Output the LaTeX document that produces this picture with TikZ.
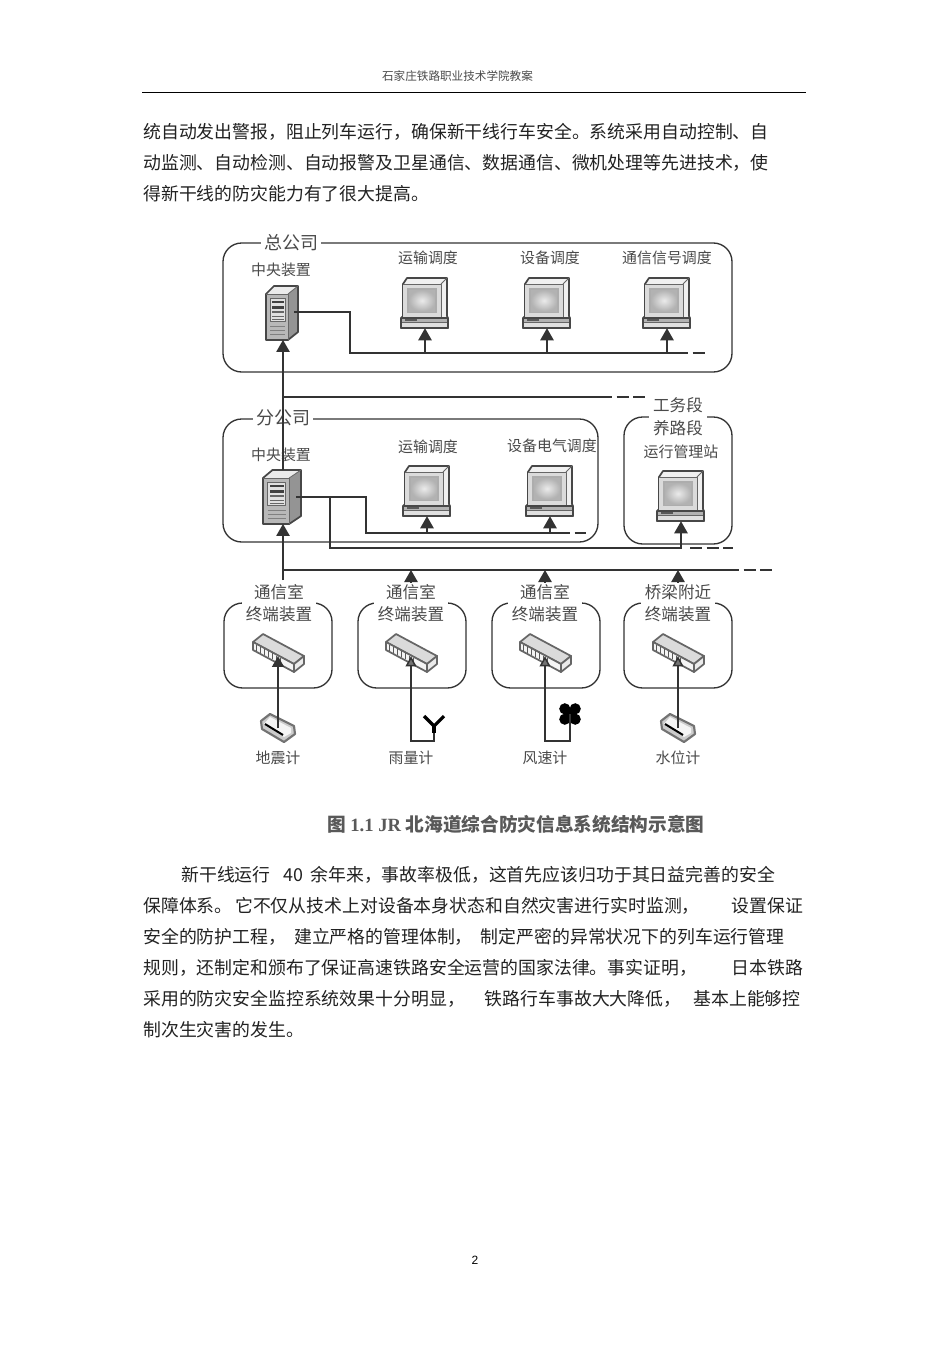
\documentclass[tikz,border=0pt]{standalone}
\usepackage{fontspec}
\usetikzlibrary{arrows.meta,calc}
\newfontfamily\cjk{Noto Sans CJK SC}
\newfontfamily\serifcap{Liberation Serif}
\definecolor{ink}{HTML}{333333}
\definecolor{lab}{HTML}{4A4A4A}
\definecolor{bodyink}{HTML}{222222}
\hbadness=10000 \hfuzz=20pt
\tikzset{
  x=0.75pt,y=-0.75pt,
  wire/.style={draw=ink,line width=1.1pt},
  dashwire/.style={draw=ink,line width=1.1pt,dash pattern=on 9pt off 3.5pt},
  arrowwire/.style={draw=ink,line width=1.1pt,-{Triangle[width=10pt,length=9pt]}},
  thinarrow/.style={draw=ink,line width=1.1pt,-{Triangle[width=8pt,length=7.5pt,fill=black!55]}},
  panel/.style={draw=ink,line width=1pt,rounded corners=14pt,inner sep=0pt},
  lab15/.style={font=\cjk\fontsize{11.2pt}{13pt}\selectfont,text=lab,inner sep=1pt},
  lab16/.style={font=\cjk\fontsize{12.4pt}{14pt}\selectfont,text=lab,inner sep=1pt},
  lab18/.style={font=\cjk\fontsize{13.5pt}{15pt}\selectfont,text=lab,inner sep=1pt},
  gaplab/.style={fill=white,inner xsep=2pt,inner ysep=1pt},
  gapdeep/.style={fill=white,inner xsep=3pt,inner ysep=6pt},
  bodyline/.style={anchor=west,font=\cjk\fontsize{13.4pt}{15pt}\selectfont,text=bodyink,inner sep=0pt},
  hole/.style={inner sep=0pt,minimum width=0pt,minimum height=0pt},
  edge1/.style={draw=black!72,line width=1.3pt,line join=round},
  edge2/.style={draw=black!60,line width=.6pt,line join=round}
}
\newcommand\panelbox[5]{\node[panel,minimum width={(#4-#2)*0.75pt},minimum height={(#5-#3)*0.75pt}] (#1) at ({(#2+#4)/2},{(#3+#5)/2}) {};}
\newcommand\txtline[4]{\node[bodyline] (#1) at (#2,#3) {#4};}
\newcommand\monitor[3]{%
  \begin{scope}[shift={(#1,#2)}]
    \filldraw[edge1,fill=black!6] (-18,-26) -- (22,-26) -- (22,12) -- (23,14) -- (23,24) -- (-24,24) -- (-24,14) -- (-22,12) -- (-22,-20) -- cycle;
    \fill[black!14] (-22,-20) rectangle (16,13);
    \draw[edge2] (16,-20) -- (22,-26);
    \draw[edge2] (-22,-20) -- (16,-20) -- (16,13);
    \fill[black!32] (-18,-16) rectangle (12,9);
    \shade[inner color=black!8,outer color=black!30] (-16,-14) rectangle (10,7);
    \fill[black!30] (-24,14) rectangle (23,18);
    \draw[edge1,line width=.9pt] (-24,14) -- (23,14);
    \draw[edge2] (-24,18) -- (23,18);
    \fill[black!65] (-20,15) rectangle (-8,16.5);
    \fill[black!12] (-24,18.5) rectangle (23,23.5);
    \draw[edge1] (-24,14) -- (-24,24) -- (23,24) -- (23,14);
    \node[hole,minimum width=34pt,minimum height=37.5pt] (#3) at (0,-1) {};
  \end{scope}}
\newcommand\server[4]{%
  \begin{scope}[shift={(#1,#2)},xscale=#3]
    \fill[black!28] (-16,-19) -- (6,-19) -- (6,27) -- (-16,27) -- cycle;
    \fill[black!8] (-16,-19) -- (-8,-27) -- (16,-27) -- (6,-19) -- cycle;
    \fill[black!42] (6,-19) -- (16,-27) -- (16,19) -- (6,27) -- cycle;
    \draw[edge1] (-16,-19) -- (-8,-27) -- (16,-27) -- (16,19) -- (6,27) -- (-16,27) -- cycle;
    \draw[edge2] (-16,-19) -- (6,-19) -- (6,27);
    \draw[edge2] (6,-19) -- (16,-27);
    \fill[black!12] (-12,-15) rectangle (3,8);
    \draw[edge2] (-12,-15) rectangle (3,8);
    \fill[black!75] (-10,-12) rectangle (2,-10);
    \fill[black!75] (-10,-7) rectangle (2,-4);
    \fill[black!60] (-10,-2) rectangle (2,0);
    \draw[edge2] (-10,3) -- (2,3);
    \draw[edge2] (-10,6) -- (2,6);
    \foreach \yy in {13,17,21} \draw[black!50,line width=.4pt] (-12,\yy) -- (3,\yy);
    \node[hole,minimum width=24pt,minimum height=40pt] (#4) at (0,0) {};
  \end{scope}}
\newcommand\switchbox[3]{%
  \begin{scope}[shift={(#1,#2)}]
    \filldraw[edge1,draw=black!60,fill=black!14] (-25,-10) -- (-15,-18) -- (26,4) -- (16,12) -- cycle;
    \filldraw[edge1,draw=black!60,fill=black!4] (-25,-10) -- (16,12) -- (16,20) -- (-25,-2) -- cycle;
    \filldraw[edge1,draw=black!60,fill=black!8] (16,12) -- (26,4) -- (26,12) -- (16,20) -- cycle;
    \foreach \k in {0,...,6} \draw[black!65,line width=.6pt] ({-22+\k*4},{-7+\k*2.1}) -- ++(0,6);
    \node[hole,minimum width=3pt,minimum height=3pt] (#3) at (0,2) {};
  \end{scope}}
\newcommand\sensorbox[3]{%
  \begin{scope}[shift={(#1,#2)}]
    \filldraw[edge1,draw=black!55,fill=black!20,line width=1.6pt] (-17,-7) -- (-8,-14) -- (16,-2) -- (17,6) -- (6,14) -- (-16,1) -- cycle;
    \fill[black!4] (-8,-11) -- (13,0) -- (13,5) -- (6,9) -- (-14,-4) -- cycle;
    \draw[black,line width=1.5pt] (-13,-4) -- (5,7);
    \node[hole,minimum width=2pt,minimum height=2pt] (#3) at (0,2) {};
  \end{scope}}
\begin{document}
\begin{tikzpicture}
\useasboundingbox (0,0) rectangle (950,1345);
\fill[white] (0,0) rectangle (950,1345);

% page furniture
\node[font=\cjk\fontsize{8.7pt}{10pt}\selectfont,text=lab,inner sep=0pt] (head) at (457.5,76) {石家庄铁路职业技术学院教案};
\coordinate (ruleL) at (142,92); \coordinate (ruleR) at (806,92);
\draw[black,line width=.6pt] (ruleL) -- (ruleR);
\txtline{p1}{143}{132}{统自动发出警报，阻止列车运行，确保新干线行车安全。系统采用自动控制、自}
\txtline{p2}{143}{163}{动监测、自动检测、自动报警及卫星通信、数据通信、微机处理等先进技术，使}
\txtline{p3}{143}{194}{得新干线的防灾能力有了很大提高。}
\txtline{q1}{181}{875}{新干线运行\hspace{10pt}40\hspace{2pt} 余年来，事故率极低，这首先应该归功于其日益完善的安全}
\txtline{q2}{143}{906}{保障体系。\hspace{2pt}它不仅从技术上对设备本身状态和自然灾害进行实时监测，\hspace{24pt}设置保证}
\txtline{q3}{143}{937}{安全的防护工程，\hspace{6pt}建立严格的管理体制，\hspace{6pt}制定严密的异常状况下的列车运行管理}
\txtline{q4}{143}{968}{规则，还制定和颁布了保证高速铁路安全运营的国家法律。事实证明，\hspace{26pt}日本铁路}
\txtline{q5}{143}{999}{采用的防灾安全监控系统效果十分明显，\hspace{15pt}铁路行车事故大大降低，\hspace{9pt}基本上能够控}
\txtline{q6}{143}{1030}{制次生灾害的发生。}
\node[font=\fontspec{Liberation Sans}\fontsize{9pt}{10pt}\selectfont,inner sep=0pt] (pageno) at (475,1260) {2};

% panels
\panelbox{hq}{223}{243}{732}{372}
\panelbox{br}{223}{419}{598}{542}
\panelbox{wk}{624}{417}{732}{544}
\panelbox{t1}{224}{603}{332}{688}
\panelbox{t2}{358}{603}{466}{688}
\panelbox{t3}{492}{603}{600}{688}
\panelbox{t4}{624}{603}{732}{688}

% panel titles that interrupt the borders
\node[lab18,gaplab] (hqT) at (291,243) {总公司};
\node[lab18,gaplab] (brT) at (283,418) {分公司};
\node[lab16,gapdeep] (wkB) at (678,428) {养路段};
\node[lab16] (wkA) at (678,405) {工务段};
\node[lab16,gapdeep] (e1) at (279,614) {终端装置};
\node[lab16,gapdeep] (e2) at (411,614) {终端装置};
\node[lab16,gapdeep] (e3) at (545,614) {终端装置};
\node[lab16,gapdeep] (e4) at (678,614) {终端装置};

% equipment labels
\node[lab15] (a1) at (281,270) {中央装置};
\node[lab15] (a2) at (428,258) {运输调度};
\node[lab15] (a3) at (550,258) {设备调度};
\node[lab15] (a4) at (667,258) {通信信号调度};
\node[lab15] (b1) at (281,455) {中央装置};
\node[lab15] (b2) at (428,447) {运输调度};
\node[lab15] (b3) at (552,446) {设备电气调度};
\node[lab15] (b4) at (681,452) {运行管理站};
\node[lab16] (c1) at (279,592) {通信室};
\node[lab16] (c2) at (411,592) {通信室};
\node[lab16] (c3) at (545,592) {通信室};
\node[lab16] (c4) at (678,592) {桥梁附近};
\node[lab15] (d1) at (278,758) {地震计};
\node[lab15] (d2) at (411,758) {雨量计};
\node[lab15] (d3) at (545,758) {风速计};
\node[lab15] (d4) at (678,758) {水位计};

% equipment
\server{282}{313}{1}{s1}
\server{282}{497}{1.19}{s2}
\monitor{425}{304}{m1}
\monitor{547}{304}{m2}
\monitor{667}{304}{m3}
\monitor{427}{492}{m4}
\monitor{550}{492}{m5}
\monitor{681}{497}{m6}
\switchbox{278}{652}{w1}
\switchbox{411}{652}{w2}
\switchbox{545}{652}{w3}
\switchbox{678}{652}{w4}
\sensorbox{278}{728}{g1}
\sensorbox{678}{728}{g4}

% antenna and fan
\coordinate (r1) at (411,741); \coordinate (r2) at (434,741); \coordinate (r3) at (434,733);
\coordinate (r35) at (434,726);
\coordinate (r4) at (424,716); \coordinate (r5) at (444,716);
\draw[draw=black,line width=2.4pt,line join=miter] (r4) -- (r35) -- (r5);
\draw[draw=black,line width=2.4pt] (r35) -- (r3);
\coordinate (f1) at (545,741); \coordinate (f2) at (570,741); \coordinate (f3) at (570,714);
\fill[black] ($(f3)+(-5.2,-5.2)$) circle (5.6);
\fill[black] ($(f3)+(5.2,-5.2)$) circle (5.6);
\fill[black] ($(f3)+(-5.2,5.2)$) circle (5.6);
\fill[black] ($(f3)+(5.2,5.2)$) circle (5.6);
\fill[black] ($(f3)+(-4,-4)$) rectangle ($(f3)+(4,4)$);

% head-office network
\coordinate (n1) at (350,312); \coordinate (n2) at (350,353);
\coordinate (n3) at (425,353); \coordinate (n4) at (547,353); \coordinate (n5) at (667,353);
\coordinate (n6) at (676,353); \coordinate (n7) at (708,353);
\coordinate (sR1) at (294,312);
\draw[wire] (sR1) -- (n1) -- (n2) -- (n6);
\draw[dashwire] (n6) -- (n7);
\draw[arrowwire] (n3) -- (n3 |- m1.south);
\draw[arrowwire] (n4) -- (n4 |- m2.south);
\draw[arrowwire] (n5) -- (n5 |- m3.south);

% trunk
\coordinate (tr0) at (283,580); \coordinate (tr1) at (283,570);
\coordinate (tr2) at (283,397); \coordinate (tr3) at (600,397); \coordinate (tr4) at (649,397);
\draw[arrowwire] (s2.north -| tr0) -- (tr0 |- s1.south);
\draw[arrowwire] (tr0) -- (tr0 |- s2.south);
\draw[wire] (tr2) -- (tr3);
\draw[dashwire] (tr3) -- (tr4);

% branch network
\coordinate (v0) at (296,497); \coordinate (v1) at (330,497); \coordinate (v2) at (366,497);
\coordinate (v3) at (366,533); \coordinate (v4) at (427,533); \coordinate (v5) at (550,533);
\coordinate (v6) at (558,533); \coordinate (v7) at (586,533);
\coordinate (v8) at (330,548); \coordinate (v9) at (681,548);
\coordinate (v10) at (690,548); \coordinate (v11) at (733,548);
\draw[wire] (v0) -- (v2) -- (v3) -- (v6);
\draw[dashwire] (v6) -- (v7);
\draw[arrowwire] (v4) -- (v4 |- m4.south);
\draw[arrowwire] (v5) -- (v5 |- m5.south);
\draw[arrowwire] (v1) -- (v8) -- (v9) -- (v9 |- m6.south);
\draw[dashwire] (v10) -- (v11);

% field bus
\coordinate (u2) at (411,570); \coordinate (u3) at (545,570); \coordinate (u4) at (678,570);
\coordinate (u5) at (727,570); \coordinate (u6) at (775,570);
\coordinate (x2) at (411,582); \coordinate (x3) at (545,582); \coordinate (x4) at (678,582);
\draw[wire] (tr1) -- (u5);
\draw[dashwire] (u5) -- (u6);
\draw[arrowwire] (x2) -- (u2);
\draw[arrowwire] (x3) -- (u3);
\draw[arrowwire] (x4) -- (u4);

% sensors to terminals
\draw[arrowwire,-{Triangle[width=9pt,length=8pt]}] (g1) -- (w1);
\draw[thinarrow] (r3) -- (r2) -- (r1) -- (w2);
\draw[thinarrow] (f3) -- (f2) -- (f1) -- (w3);
\draw[thinarrow] (g4) -- (w4);

% caption
\node[font=\bfseries\fontsize{14pt}{16pt}\selectfont,text=black!65,inner sep=0pt] (cap) at (516,824) {\cjk 图 \serifcap 1.1 JR \cjk 北海道综合防灾信息系统结构示意图};
\end{tikzpicture}
\end{document}
